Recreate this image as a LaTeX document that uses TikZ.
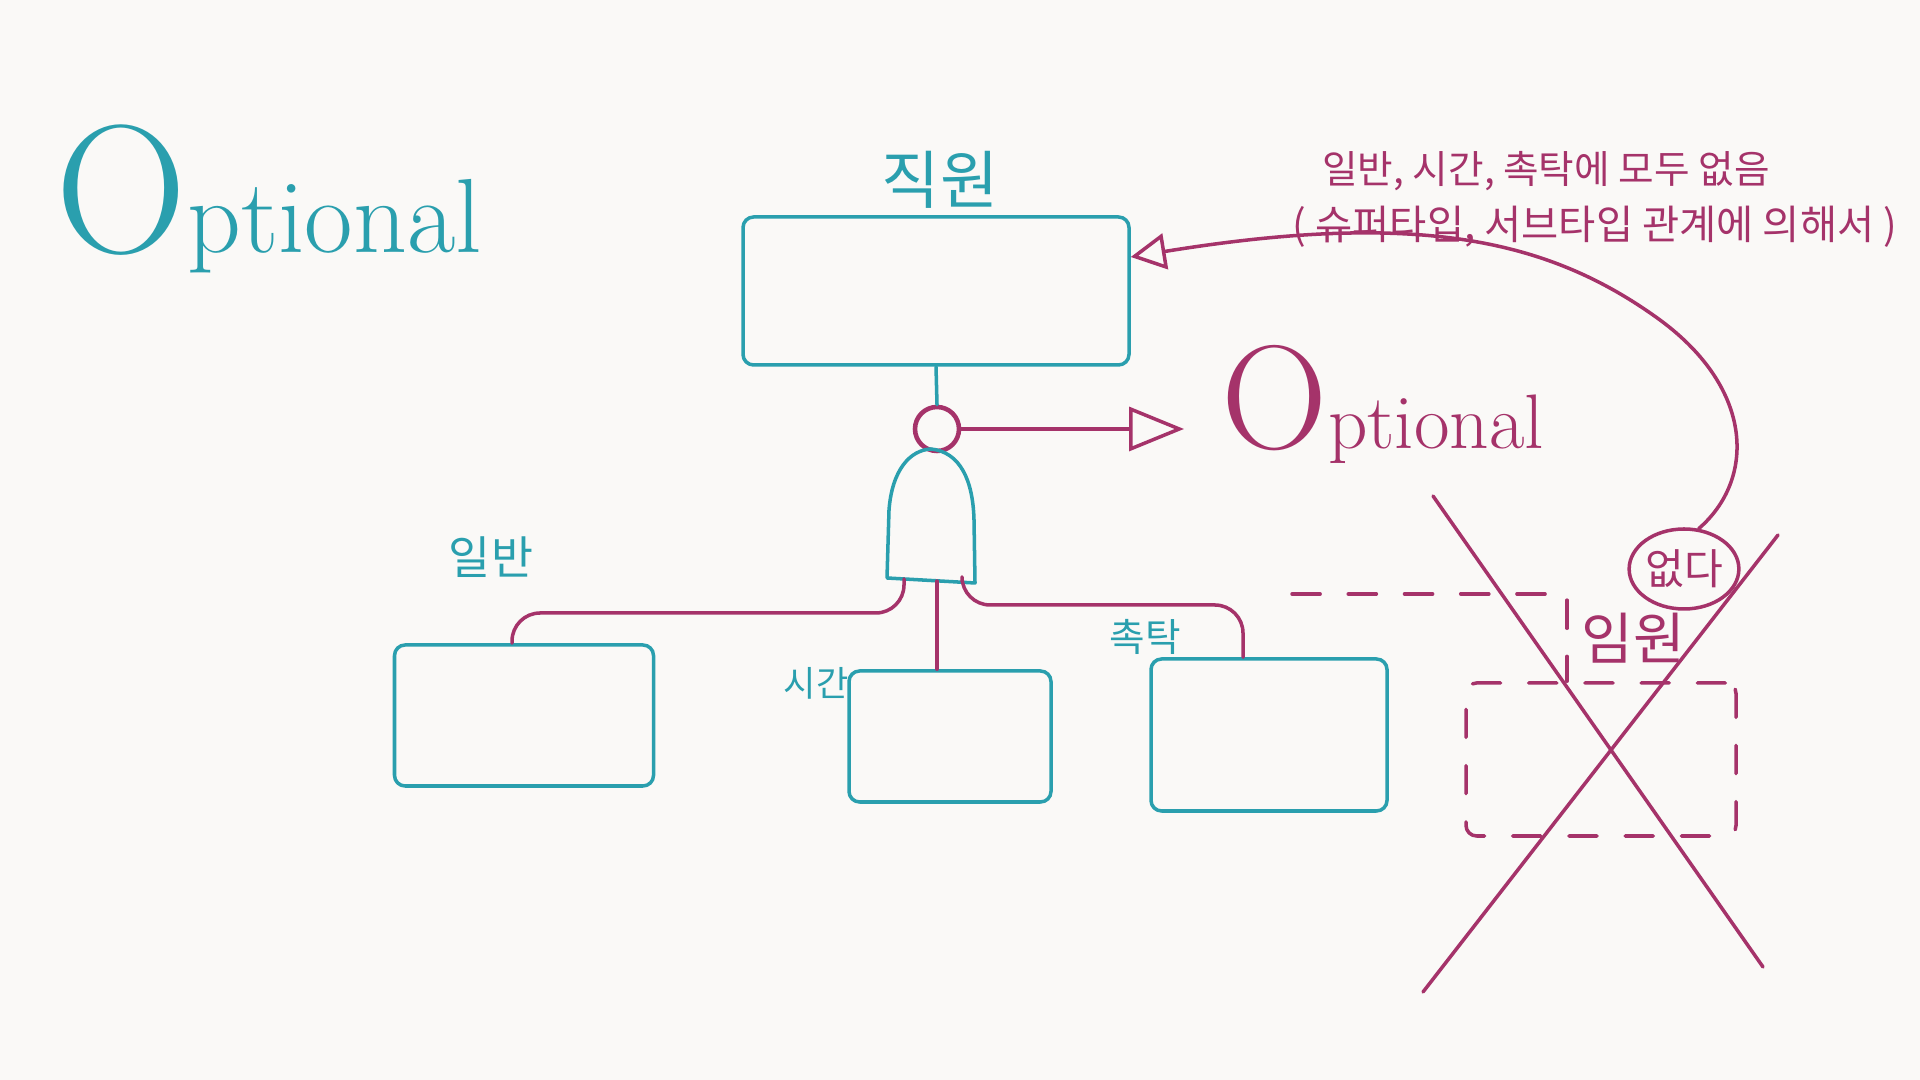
\documentclass[tikz,border=0pt]{standalone}
\usepackage{fontspec}
\usepackage{tikz}
\usetikzlibrary{arrows.meta}
\usetikzlibrary{shapes.geometric}
\newfontfamily\kr{Noto Sans CJK KR}
\definecolor{penteal}{HTML}{2A9FAE}
\definecolor{penmag}{HTML}{A5336A}
\definecolor{paper}{HTML}{FAF9F7}

\begin{document}
\begin{tikzpicture}[
                teal line/.style={draw=penteal,line width=1pt,line cap=round,line join=round},
                mag line/.style={draw=penmag,line width=1pt,line cap=round,line join=round},
                box node/.style={teal line,rectangle,rounded corners=3pt,inner sep=0pt},
                teal text/.style={text=penteal,inner sep=1pt},
                mag text/.style={text=penmag,inner sep=1pt},
                ]
                \fill[paper] (0,0) rectangle (19.2,10.8);
                \useasboundingbox (0,0) rectangle (19.2,10.8);

                % titles
                \node[teal text,anchor=base west,inner sep=0pt] (optL) at (0.55,8.27)
                    {{\fontsize{52}{52}\selectfont O}{\fontsize{30}{30}\selectfont ptional}};
                \node[mag text,anchor=base west,inner sep=0pt] (optR) at (12.21,6.31)
                    {{\fontsize{42}{42}\selectfont O}{\fontsize{22}{22}\selectfont ptional}};

                % supertype and subtypes
                \node[box node,minimum width=3.86cm,minimum height=1.48cm] (emp) at (9.36,7.89) {};
                \node[box node,minimum width=2.59cm,minimum height=1.41cm] (reg) at (5.24,3.645) {};
                \node[box node,minimum width=2.02cm,minimum height=1.31cm] (hour) at (9.50,3.435) {};
                \node[box node,minimum width=2.36cm,minimum height=1.52cm] (cont) at (12.69,3.45) {};
                \node[box node,draw=penmag,dash pattern=on 8pt off 8pt,
                      minimum width=2.70cm,minimum height=1.53cm] (exec) at (16.01,3.205) {};

                \node[teal text,font={\kr\fontsize{18}{18}\selectfont}] (empL) at (9.40,9.00) {직원};
                \node[teal text,font={\kr\fontsize{13}{13}\selectfont}] (regL) at (4.91,5.23) {일반};
                \node[teal text,font={\kr\fontsize{10}{10}\selectfont}] (hourL) at (8.16,3.97) {시간};
                \node[teal text,font={\kr\fontsize{11}{11}\selectfont}] (contL) at (11.45,4.43) {촉탁};
                \node[mag text,font={\kr\fontsize{16}{16}\selectfont}] (execL) at (16.33,4.42) {임원};

                % subtype symbol
                \node[circle,mag line,line width=1.3pt,minimum size=0.44cm,inner sep=0pt] (sub) at (9.37,6.51) {};
                \draw[teal line] (8.87,5.02) -- (8.89,5.70)
                    .. controls (8.92,6.10) and (9.10,6.30) .. (9.31,6.31)
                    .. controls (9.60,6.28) and (9.73,6.00) .. (9.74,5.60)
                    -- (9.75,4.97) -- cycle;
                \coordinate (arL) at (9.04,5.01);
                \coordinate (arM) at (9.37,4.99);
                \coordinate (arR) at (9.62,4.98);
                \coordinate (dash0) at (12.92,4.86);

                \draw[teal line] (emp.south) -- (sub.north);
                \draw[mag line,-{Triangle[open,length=5.5mm,width=4.4mm]},shorten >=3.7mm]
                    (sub.east) -- (sub.east -| optR.west);

                \draw[mag line,rounded corners=8pt] (arL) -- ++(0,-0.34) -| ([xshift=-0.12cm]reg.north);
                \draw[mag line] (arM) -- (arM |- hour.north);
                \draw[mag line,rounded corners=8pt] (arR) -- ++(0,-0.23) -| ([xshift=-0.26cm]cont.north);
                \draw[mag line,dash pattern=on 8pt off 8pt] (dash0) -| ([xshift=-0.34cm]exec.north);

                % no executive
                \draw[mag line] (14.33,5.84) -- (17.63,1.13);
                \draw[mag line] (17.78,5.45) -- (14.23,0.88);
                \node[ellipse,mag line,mag text,minimum width=1.02cm,minimum height=0.80cm,inner sep=0pt,
                      font={\kr\fontsize{12}{12}\selectfont}] (none) at (16.84,5.11) {없다};
                \draw[mag line,-{Triangle[open,length=3.5mm,width=3.6mm]}] (none.70)
                    .. controls (17.55,6.00) and (17.55,6.90) .. (16.60,7.60)
                    .. controls (15.50,8.40) and (14.20,8.70) .. ([yshift=3.4mm]emp.east);

                % note
                \node[mag text,font={\kr\fontsize{11}{11}\selectfont}] (note1) at (15.46,9.09)
                    {일반, 시간, 촉탁에 모두 없음};
                \node[mag text,font={\kr\fontsize{11.5}{11.5}\selectfont}] (note2) at (15.95,8.53)
                    {( 슈퍼타입, 서브타입 관계에 의해서 )};
            \end{tikzpicture}
\end{document}
